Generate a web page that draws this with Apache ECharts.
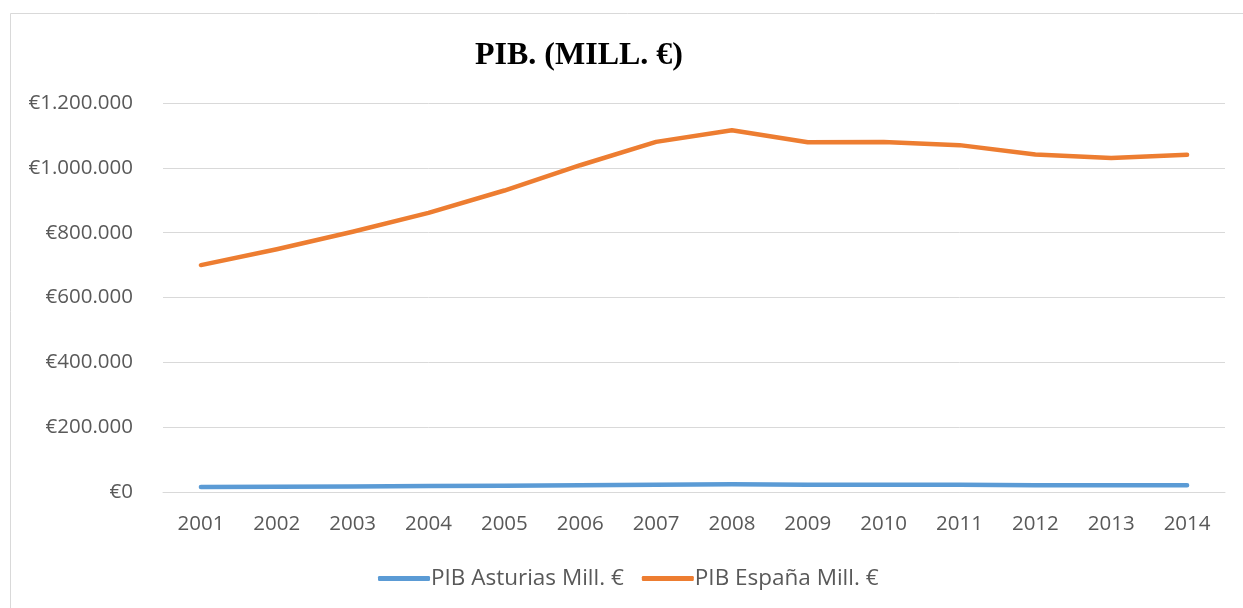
<!DOCTYPE html>
<html>
<head>
<meta charset="utf-8">
<script src="https://cdn.jsdelivr.net/npm/echarts@6/dist/echarts.min.js"></script>
<style>
  html, body { margin: 0; padding: 0; background: #fff; }
  #chart { width: 1243px; height: 608px; }
</style>
</head>
<body>
<div id="chart"></div>
<script>
// data (millions of euros)
var years = ['2001', '2002', '2003', '2004', '2005', '2006', '2007',
  '2008', '2009', '2010', '2011', '2012', '2013', '2014'];
var asturias = [15500, 16400, 17300, 18400, 19600, 21000, 22600,
  23600, 22200, 22500, 22100, 21200, 20600, 20700];
var espana = [700000, 749000, 803000, 861000, 930000, 1008000, 1080000,
  1116000, 1079000, 1080000, 1070000, 1041000, 1030000, 1040000];

var labelColor = '#595959';
var font = 'Open Sans';

function euro(v) {
  var s = String(Math.round(v)).replace(/\B(?=(\d{3})+(?!\d))/g, '.');
  return '€' + s;
}

var chart = echarts.init(document.getElementById('chart'));
chart.setOption({
  animation: false,
  backgroundColor: '#fff',
  title: {
    text: 'PIB. (MILL. €)',
    left: 574,
    top: 35,
    textAlign: 'center',
    textStyle: {
      fontFamily: 'Liberation Serif',
      fontWeight: 'bold',
      fontSize: 32,
      color: '#000'
    }
  },
  graphic: [{
    type: 'rect',
    shape: { x: 10.5, y: 13.5, width: 1300, height: 700 },
    style: { fill: null, stroke: '#d9d9d9', lineWidth: 1 },
    silent: true
  }],
  legend: {
    bottom: 13,
    left: 373,
    itemWidth: 52,
    itemHeight: 5,
    itemGap: 18,
    icon: 'roundRect',
    textStyle: { color: labelColor, fontFamily: font, fontSize: 22.5, padding: [0, 0, 0, -4] },
    data: ['PIB Asturias Mill. €', 'PIB España Mill. €']
  },
  grid: { left: 163, right: 18, top: 103, bottom: 116 },
  xAxis: {
    type: 'category',
    data: years,
    boundaryGap: true,
    axisLine: { show: true, lineStyle: { color: '#d9d9d9', width: 1 } },
    axisTick: { show: false },
    axisLabel: { color: labelColor, fontFamily: font, fontSize: 20.5, margin: 22 }
  },
  yAxis: {
    type: 'value',
    min: 0,
    max: 1200000,
    interval: 200000,
    axisLine: { show: false },
    axisTick: { show: false },
    splitLine: { lineStyle: { color: '#d9d9d9', width: 1 } },
    axisLabel: { color: labelColor, fontFamily: font, fontSize: 20.5, margin: 30, formatter: euro }
  },
  series: [{
    name: 'PIB Asturias Mill. €',
    type: 'line',
    data: asturias,
    showSymbol: false,
    symbol: 'none',
    lineStyle: { color: '#5B9BD5', width: 4.5, cap: 'round', join: 'round' },
    itemStyle: { color: '#5B9BD5' }
  }, {
    name: 'PIB España Mill. €',
    type: 'line',
    data: espana,
    showSymbol: false,
    symbol: 'none',
    lineStyle: { color: '#ED7D31', width: 4.5, cap: 'round', join: 'round' },
    itemStyle: { color: '#ED7D31' }
  }]
});
</script>
</body>
</html>
